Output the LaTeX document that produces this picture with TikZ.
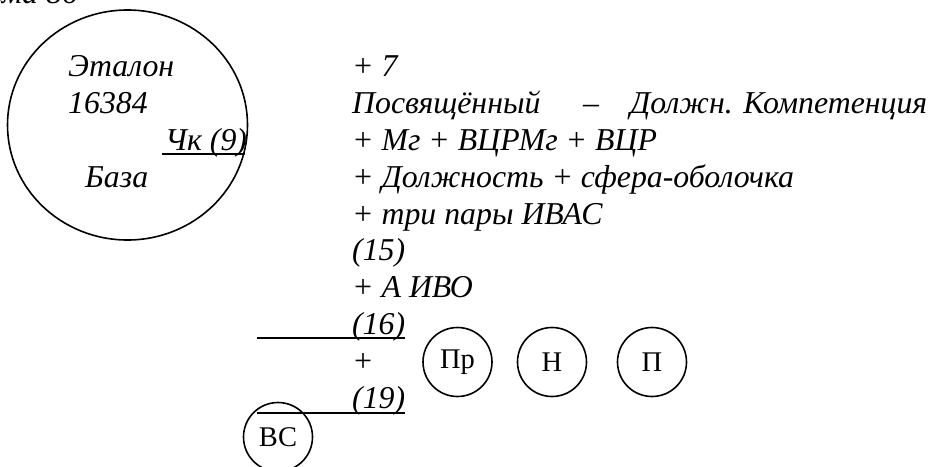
\documentclass[tikz,border=0pt]{standalone}
\usepackage{fontspec}
\setmainfont{Liberation Serif}[ItalicFont={Liberation Serif Italic}]
\usetikzlibrary{shapes.geometric}
\begin{document}
\begin{tikzpicture}[x=1pt,y=-1pt,
  txt/.style={inner sep=0pt, font=\fontsize{31.8}{33}\selectfont\itshape, anchor=base west},
  circ/.style={draw, line width=1.6pt, circle, minimum size=69pt, inner sep=0pt, font=\fontsize{28.5}{29}\selectfont},
  uline/.style={line width=2pt}]
\useasboundingbox (0,0) rectangle (933,466);
\clip (0,0) rectangle (933,466);
% cut-off title
\node[txt, anchor=base east] (title) at (78,3) {Схема 86};
% big ellipse
\node[draw, ellipse, line width=1.6pt, minimum width=240pt, minimum height=230pt, inner sep=0pt] (big) at (127.5,125) {};
\node[txt] (etalon) at (68,76.8) {Эталон};
\node[txt] (num) at (68,113.6) {16384};
\node[txt] (chk) at (165,150.4) {Чк (9)};
\node[txt] (baza) at (85,187.2) {База};
\coordinate (chkA) at (162,154);
\coordinate (chkB) at (245,154);
\draw[uline] (chkA) -- (chkB);
% right block
\node[txt] (l1) at (352,76.8) {+ 7};
\node[txt] (l2a) at (352,113.6) {Посвящённый};
\node[txt] (l2b) at (583,113.6) {–};
\node[txt] (l2c) at (630,113.6) {Должн. Компетенция};
\node[txt] (l3) at (352,150.4) {+ Мг + ВЦРМг + ВЦР};
\node[txt] (l4) at (352,187.2) {+ Должность + сфера-оболочка};
\node[txt] (l5) at (352,224) {+ три пары ИВАС};
\node[txt] (l6) at (352,260.8) {(15)};
\node[txt] (l7) at (352,297.6) {+ А ИВО};
\node[txt] (l8) at (352,334.4) {(16)};
\node[txt] (l9) at (352,371.2) {+};
\node[txt] (l10) at (352,408) {(19)};
\coordinate (u1a) at (257,338);
\coordinate (u1b) at (405,338);
\coordinate (u2a) at (257,413);
\coordinate (u2b) at (405,413);
\draw[uline] (u1a) -- (u1b);
\draw[uline] (u2a) -- (u2b);
% circles
\node[circ] (pr) at (457.5,362) {Пр};
\node[circ] (n) at (552,362) {Н};
\node[circ] (p) at (652,362) {П};
\node[circ] (vs) at (278,437) {ВС};
\end{tikzpicture}
\end{document}
